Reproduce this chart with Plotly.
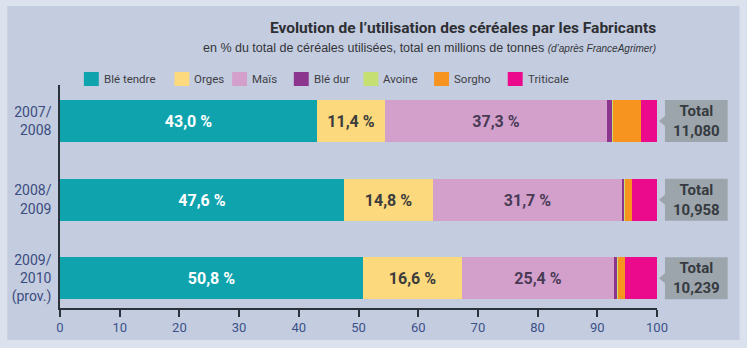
import plotly.graph_objects as go

# --- data -----------------------------------------------------------------
campaigns = ["2007/2008", "2008/2009", "2009/2010 (prov.)"]
campaign_ticks = ["2007/<br>2008", "2008/<br>2009", "2009/<br>2010<br>(prov.)"]

ble_tendre = [43.0, 47.6, 50.8]
orges = [11.4, 14.8, 16.6]
mais = [37.3, 31.7, 25.4]
ble_dur = [0.9, 0.5, 0.6]
avoine = [0.1, 0.1, 0.1]
sorgho = [4.7, 1.1, 1.2]
triticale = [2.6, 4.2, 5.3]

totals = ["11,080", "10,958", "10,239"]
x_ticks = [0, 10, 20, 30, 40, 50, 60, 70, 80, 90, 100]

series = [
    ("Blé tendre", ble_tendre, "#0fa3ae", True, "#ffffff"),
    ("Orges", orges, "#fbd97c", True, "#3c3c3c"),
    ("Maïs", mais, "#d3a0cc", True, "#4a3b55"),
    ("Blé dur", ble_dur, "#8c358f", False, None),
    ("Avoine", avoine, "#c5df73", False, None),
    ("Sorgho", sorgho, "#f7941f", False, None),
    ("Triticale", triticale, "#ec0a8c", False, None),
]

# --- geometry ---------------------------------------------------------------
W, H = 747, 348
ML, MR, MT, MB = 57, 90, 85, 40
PW, PH = W - ML - MR, H - MT - MB
Y_RANGE = [2.38, -0.46]  # reversed: first campaign on top
positions = list(range(len(campaigns)))


def px_x(px):
    return (px - ML) / PW


def px_y(py):
    return (H - MB - py) / PH


def y_paper(v):
    return (Y_RANGE[0] - v) / (Y_RANGE[0] - Y_RANGE[1])


BAR_W = 0.535
FONT = "Roboto, Liberation Sans, sans-serif"
NARROW = "Liberation Sans Narrow, Roboto, sans-serif"

fig = go.Figure()
for name, vals, color, labelled, tcolor in series:
    fig.add_trace(go.Bar(
        y=positions, x=vals, name=name, orientation="h",
        marker=dict(color=color, line=dict(width=0)),
        width=BAR_W,
        text=[(f"{v:.1f} %").replace(".", ",") for v in vals] if labelled else None,
        textposition="inside" if labelled else "none",
        insidetextanchor="middle", textangle=0,
        textfont=dict(family=FONT, size=16, color=tcolor or "#000", weight="bold"),
        hoverinfo="skip", showlegend=False,
    ))

shapes = []
annotations = []

# background panel
shapes.append(dict(type="rect", xref="paper", yref="paper", layer="below",
                   x0=px_x(4), x1=px_x(740), y0=px_y(340), y1=px_y(6),
                   fillcolor="#c4cce0", line=dict(width=0)))

# legend (swatches + labels)
legend_pos = [81, 172, 230, 292, 362, 433, 507]
for (name, vals, color, _, _), lx in zip(series, legend_pos):
    shapes.append(dict(type="rect", xref="paper", yref="paper",
                       x0=px_x(lx), x1=px_x(lx + 15), y0=px_y(86), y1=px_y(72),
                       fillcolor=color, line=dict(width=0)))
    annotations.append(dict(xref="paper", yref="paper", x=px_x(lx + 18), y=px_y(79),
                            text=name, showarrow=False, xanchor="left", yanchor="middle",
                            font=dict(family=FONT, size=11.5, color="#3e4045")))

# total boxes with a left pointer
bx0, bx1 = 665, 728
for pos, tot in zip(positions, totals):
    yc = y_paper(pos)
    half = BAR_W / 2 / (Y_RANGE[0] - Y_RANGE[1])
    tri = 5 / PH
    x0, x1, xt = px_x(bx0), px_x(bx1), px_x(659)
    path = (f"M {x0} {yc - half} L {x1} {yc - half} L {x1} {yc + half} L {x0} {yc + half} "
            f"L {x0} {yc + tri} L {xt} {yc} L {x0} {yc - tri} Z")
    shapes.append(dict(type="path", xref="paper", yref="paper", path=path,
                       fillcolor="#9ca5ac", line=dict(width=0)))
    annotations.append(dict(xref="paper", yref="paper", x=px_x((bx0 + bx1) / 2), y=yc,
                            text=f"Total<br>{tot}", showarrow=False,
                            xanchor="center", yanchor="middle",
                            font=dict(family=FONT, size=15, color="#363a40", weight="bold")))

# titles
annotations.append(dict(xref="paper", yref="paper", x=px_x(658), y=px_y(28),
                        text="<b>Evolution de l’utilisation des céréales par les Fabricants</b>",
                        showarrow=False, xanchor="right", yanchor="middle",
                        font=dict(family=NARROW, size=15.5, color="#2e3034")))
annotations.append(dict(xref="paper", yref="paper", x=px_x(658), y=px_y(48),
                        text="en % du total de céréales utilisées, total en millions de tonnes "
                             "<i><span style='font-size:10px'>(d’après FranceAgrimer)</span></i>",
                        showarrow=False, xanchor="right", yanchor="middle",
                        font=dict(family="Liberation Sans, Roboto, sans-serif",
                                  size=12.5, color="#333538")))

fig.update_layout(
    width=W, height=H,
    margin=dict(l=ML, r=MR, t=MT, b=MB, pad=0),
    barmode="stack", bargap=0,
    paper_bgcolor="#dbe2ee", plot_bgcolor="#c4cce0",
    shapes=shapes, annotations=annotations,
    uniformtext=dict(mode=False),
)
fig.update_xaxes(range=[0, 100], tickvals=x_ticks, ticktext=[str(t) for t in x_ticks],
                 showline=True, linecolor="#2b313b", linewidth=1.5,
                 ticks="outside", ticklen=7, tickwidth=1.5, tickcolor="#2b313b",
                 showgrid=False, zeroline=False,
                 tickfont=dict(family=FONT, size=13, color="#3b5288"))
fig.update_yaxes(range=Y_RANGE, tickvals=positions, ticktext=campaign_ticks,
                 showline=True, linecolor="#2b313b", linewidth=1.5,
                 ticks="", showgrid=False, zeroline=False, ticklabelstandoff=4,
                 tickfont=dict(family=FONT, size=14, color="#3b4c7e"))

fig.write_html("out.html")
